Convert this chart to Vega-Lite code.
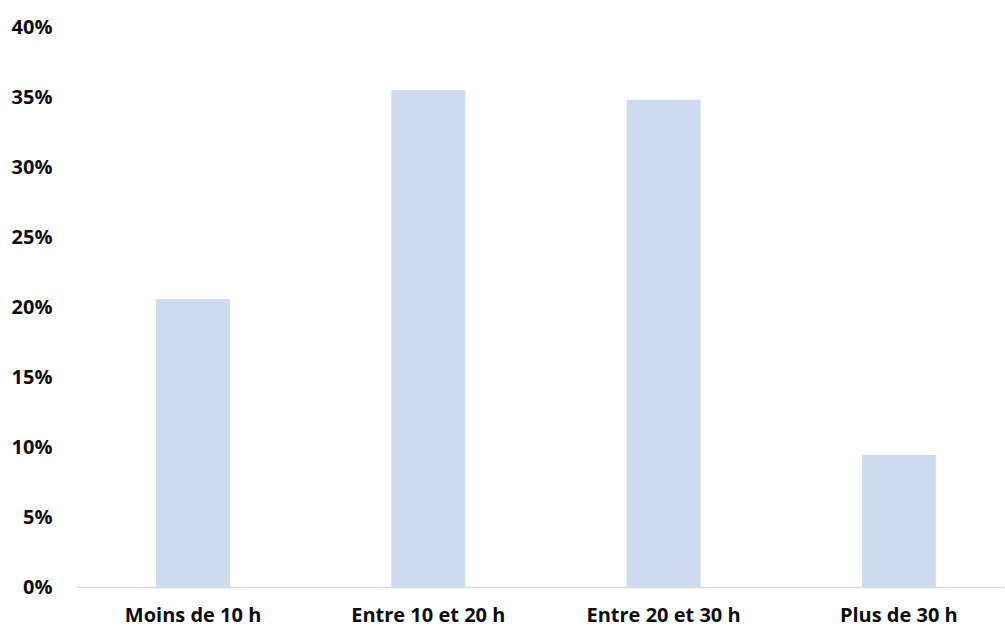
{
  "$schema": "https://vega.github.io/schema/vega-lite/v6.json",
  "width": 928,
  "height": 560,
  "autosize": {"type": "none"},
  "padding": {"left": 76, "top": 27, "right": 1, "bottom": 41},
  "background": "white",
  "config": {"view": {"stroke": null}},
  "data": {
    "values": [
      {"cat": "Moins de 10 h", "val": 0.2057},
      {"cat": "Entre 10 et 20 h", "val": 0.355},
      {"cat": "Entre 20 et 30 h", "val": 0.348},
      {"cat": "Plus de 30 h", "val": 0.0943}
    ]
  },
  "mark": {"type": "bar", "color": "#cfdbf1"},
  "encoding": {
    "x": {
      "field": "cat",
      "type": "nominal",
      "sort": null,
      "scale": {"paddingInner": 0.6855, "paddingOuter": 0.315, "align": 0.54},
      "axis": {
        "title": null,
        "labelAngle": 0,
        "labelFont": "Open Sans",
        "labelFontWeight": "bold",
        "labelFontSize": 20,
        "labelColor": "#0d0d0d",
        "labelPadding": 18,
        "ticks": false,
        "domainColor": "#d9d9d9",
        "domainWidth": 1.5,
        "grid": false
      }
    },
    "y": {
      "field": "val",
      "type": "quantitative",
      "scale": {"domain": [0, 0.4], "nice": false},
      "axis": {
        "title": null,
        "format": ".0%",
        "values": [0, 0.05, 0.1, 0.15, 0.2, 0.25, 0.3, 0.35, 0.4],
        "labelFont": "Open Sans",
        "labelFontWeight": "bold",
        "labelFontSize": 20,
        "labelColor": "#0d0d0d",
        "labelPadding": 24,
        "ticks": false,
        "domain": false,
        "grid": false
      }
    }
  }
}
